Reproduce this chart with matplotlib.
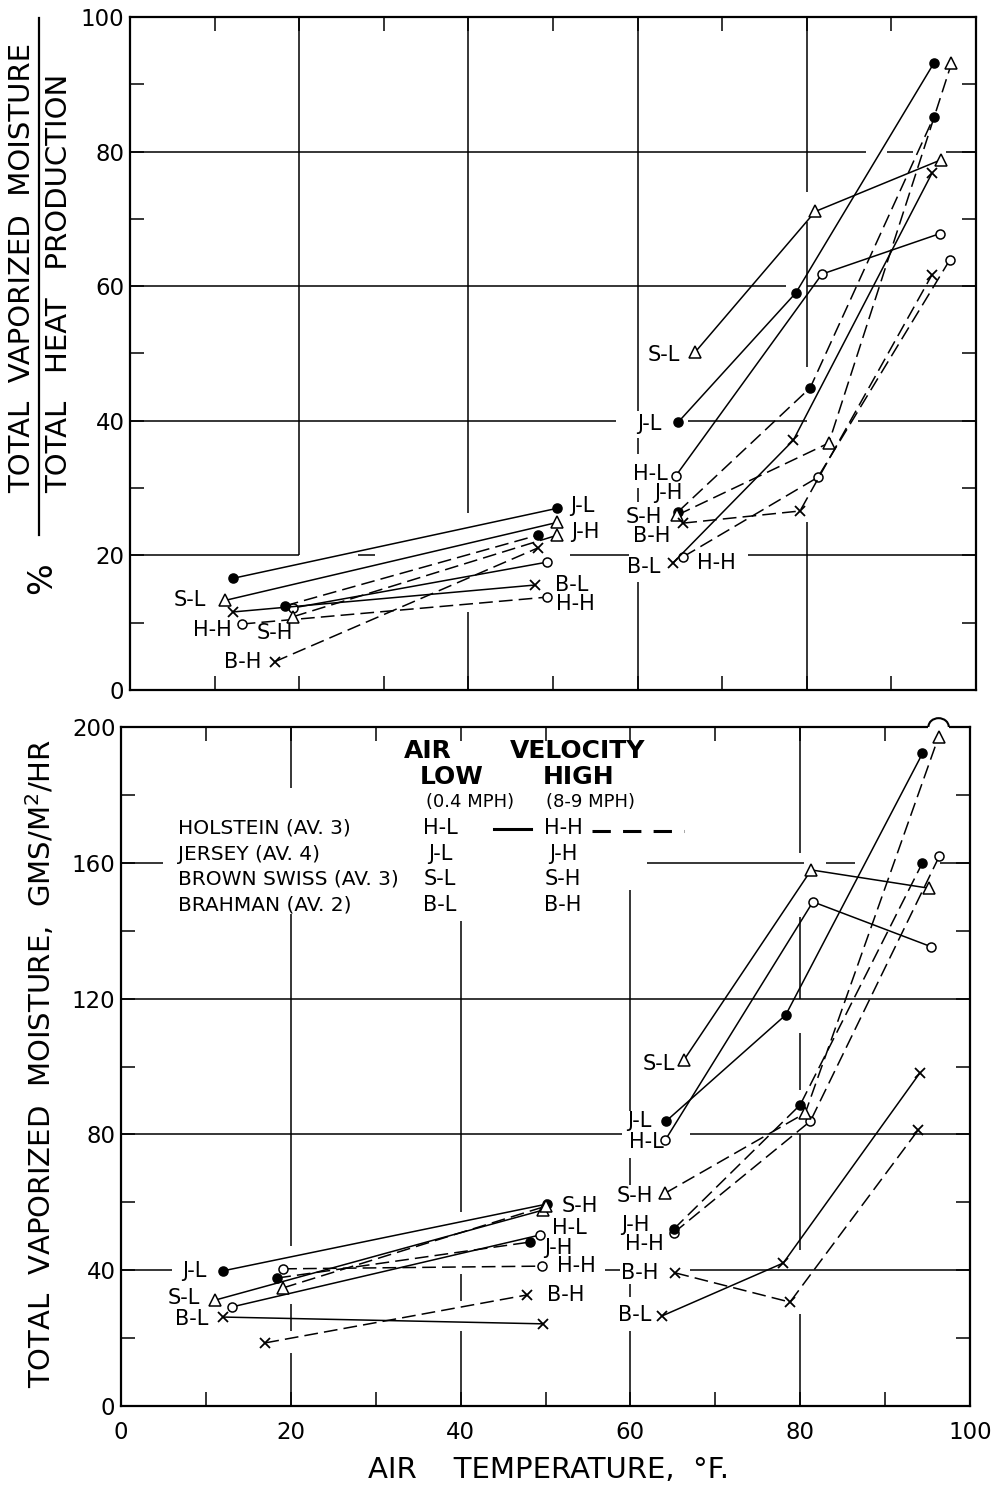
import matplotlib
matplotlib.use("Agg")
import matplotlib.pyplot as plt
from matplotlib.lines import Line2D
from matplotlib.patches import Arc
from matplotlib.ticker import MultipleLocator

plt.rcParams['font.family'] = ['DejaVu Sans']

W, H = 993, 1491

# ---------------------------------------------------------------------------
# Upper panel: % total vaporized moisture / total heat production
# Each series: two cool-room runs followed by three warm-room runs.
# ---------------------------------------------------------------------------
PCT_TEMP_HL = [19.3, 49.3, 64.5, 81.8, 95.7]
PCT_VAL_HL = [12.2, 19.0, 31.8, 61.8, 67.8]
PCT_TEMP_HH = [13.2, 49.3, 65.4, 81.3, 96.9]
PCT_VAL_HH = [9.8, 13.8, 19.8, 31.6, 63.9]
PCT_TEMP_JL = [12.2, 50.5, 64.8, 78.7, 95.0]
PCT_VAL_JL = [16.6, 27.0, 39.8, 59.0, 93.1]
PCT_TEMP_JH = [18.3, 48.2, 64.8, 80.4, 95.0]
PCT_VAL_JH = [12.5, 23.0, 26.5, 44.9, 85.1]
PCT_TEMP_SL = [11.2, 50.5, 66.8, 81.0, 95.9]
PCT_VAL_SL = [13.3, 24.9, 50.2, 71.1, 78.8]
PCT_TEMP_SH = [19.3, 50.5, 64.7, 82.6, 97.1]
PCT_VAL_SH = [10.9, 23.0, 26.0, 36.7, 93.1]
PCT_TEMP_BL = [12.2, 47.9, 64.2, 78.4, 94.8]
PCT_VAL_BL = [11.6, 15.6, 18.9, 37.1, 76.8]
PCT_TEMP_BH = [17.1, 48.2, 65.4, 79.2, 94.8]
PCT_VAL_BH = [4.2, 21.1, 24.8, 26.6, 61.7]

# ---------------------------------------------------------------------------
# Lower panel: total vaporized moisture, gms / m^2 / hr
# ---------------------------------------------------------------------------
GMS_TEMP_HL = [13.1, 49.4, 64.1, 81.5, 95.4]
GMS_VAL_HL = [29.2, 50.4, 78.3, 148.5, 135.3]
GMS_TEMP_HH = [19.1, 49.6, 65.1, 81.2, 96.4]
GMS_VAL_HH = [40.4, 41.2, 51.0, 83.9, 162.0]
GMS_TEMP_JL = [12.0, 50.2, 64.2, 78.3, 94.4]
GMS_VAL_JL = [39.8, 59.5, 83.9, 115.2, 192.2]
GMS_TEMP_JH = [18.4, 48.2, 65.1, 80.0, 94.4]
GMS_VAL_JH = [37.7, 48.3, 52.1, 88.7, 160.0]
GMS_TEMP_SL = [11.1, 49.7, 66.3, 81.3, 95.2]
GMS_VAL_SL = [31.2, 57.7, 101.9, 157.9, 152.5]
GMS_TEMP_SH = [19.1, 50.1, 64.1, 80.6, 96.3]
GMS_VAL_SH = [34.8, 58.9, 62.7, 86.3, 197.1]
GMS_TEMP_BL = [12.0, 49.7, 63.7, 78.0, 94.1]
GMS_VAL_BL = [26.2, 24.2, 26.5, 42.1, 98.1]
GMS_TEMP_BH = [17.0, 47.8, 65.3, 78.8, 93.9]
GMS_VAL_BH = [18.6, 32.7, 39.2, 30.6, 81.3]

SERIES = ['HL', 'HH', 'JL', 'JH', 'SL', 'SH', 'BL', 'BH']
PCT = {
    'HL': (PCT_TEMP_HL, PCT_VAL_HL), 'HH': (PCT_TEMP_HH, PCT_VAL_HH),
    'JL': (PCT_TEMP_JL, PCT_VAL_JL), 'JH': (PCT_TEMP_JH, PCT_VAL_JH),
    'SL': (PCT_TEMP_SL, PCT_VAL_SL), 'SH': (PCT_TEMP_SH, PCT_VAL_SH),
    'BL': (PCT_TEMP_BL, PCT_VAL_BL), 'BH': (PCT_TEMP_BH, PCT_VAL_BH),
}
GMS = {
    'HL': (GMS_TEMP_HL, GMS_VAL_HL), 'HH': (GMS_TEMP_HH, GMS_VAL_HH),
    'JL': (GMS_TEMP_JL, GMS_VAL_JL), 'JH': (GMS_TEMP_JH, GMS_VAL_JH),
    'SL': (GMS_TEMP_SL, GMS_VAL_SL), 'SH': (GMS_TEMP_SH, GMS_VAL_SH),
    'BL': (GMS_TEMP_BL, GMS_VAL_BL), 'BH': (GMS_TEMP_BH, GMS_VAL_BH),
}

# breed -> marker, velocity -> line style
MARKERS = {
    'H': dict(marker='o', ms=6.5, mfc='white', mec='black', mew=1.1),
    'J': dict(marker='o', ms=6.5, mfc='black', mec='black', mew=1.1),
    'S': dict(marker='^', ms=8.5, mfc='white', mec='black', mew=1.1),
    'B': dict(marker='x', ms=7.5, mec='black', mew=1.3),
}
DASH = (0, (9, 4))
LINESTYLE = {'L': '-', 'H': DASH}

INK = 'black'
LW = 1.1


def px_x(px):
    return px / W


def px_y(py):
    return 1 - py / H


fig = plt.figure(figsize=(W / 100, H / 100), dpi=100)
fig.patch.set_facecolor('white')

ax_top = fig.add_axes([px_x(130), px_y(690), 846 / W, 673 / H])
ax_bot = fig.add_axes([px_x(121), px_y(1406), 849 / W, 679 / H])


def style_axes(ax, ymax, ymajor, yminor):
    ax.set_xlim(0, 100)
    ax.set_ylim(0, ymax)
    ax.xaxis.set_major_locator(MultipleLocator(20))
    ax.xaxis.set_minor_locator(MultipleLocator(10))
    ax.yaxis.set_major_locator(MultipleLocator(ymajor))
    ax.yaxis.set_minor_locator(MultipleLocator(yminor))
    ax.tick_params(which='both', direction='in', length=10, width=1.1,
                   top=True, right=True, colors=INK)
    ax.tick_params(axis='y', which='major', labelsize=16.5, pad=4)
    ax.tick_params(axis='x', which='major', labelsize=16.5, pad=11)
    for sp in ax.spines.values():
        sp.set_linewidth(1.6)
        sp.set_color(INK)


def hgrid(ax, y, spans):
    for a, b in spans:
        ax.plot([a, b], [y, y], color=INK, lw=LW, zorder=1,
                solid_capstyle='butt')


def vgrid(ax, x, spans):
    for a, b in spans:
        ax.plot([x, x], [a, b], color=INK, lw=LW, zorder=1,
                solid_capstyle='butt')


def draw_series(ax, table):
    for key in SERIES:
        temps, vals = table[key]
        breed, vel = key[0], key[1]
        for lo, hi in ((0, 2), (2, 5)):
            ax.plot(temps[lo:hi], vals[lo:hi], color=INK, lw=LW,
                    linestyle=LINESTYLE[vel], zorder=3, **MARKERS[breed])


def draw_labels(ax, table, labels):
    for text, key, idx, dx, dy in labels:
        temps, vals = table[key]
        ax.annotate(text, xy=(temps[idx], vals[idx]), xytext=(dx, -dy),
                    textcoords='offset pixels', ha='center', va='center',
                    fontsize=15, color=INK, zorder=2,
                    bbox=dict(fc='white', ec='none', pad=0.5))


# ---------------------------- upper panel ---------------------------------
style_axes(ax_top, 100, 20, 10)
ax_top.tick_params(axis='x', which='both', labelbottom=False)

hgrid(ax_top, 80, [(0, 87), (89.5, 92.5), (96.5, 100)])
hgrid(ax_top, 60, [(0, 77.5), (80, 100)])
hgrid(ax_top, 40, [(0, 57.5), (66, 80), (86, 100)])
hgrid(ax_top, 20, [(0, 20), (27, 29), (52, 59), (73, 100)])
vgrid(ax_top, 20, [(20, 100)])
vgrid(ax_top, 40, [(0, 11.6), (26.3, 100)])
vgrid(ax_top, 60, [(0, 16), (28, 30), (35, 37.5), (41.5, 100)])
vgrid(ax_top, 80, [(0, 25), (48, 69.5), (74, 100)])

draw_series(ax_top, PCT)
draw_labels(ax_top, PCT, [
    ('S-L', 'SL', 0, -35, 0), ('H-H', 'HH', 0, -29, 6),
    ('S-H', 'SH', 0, -18, 16), ('B-H', 'BH', 0, -32, 0),
    ('J-L', 'JL', 1, 25, -2), ('J-H', 'JH', 1, 48, -3),
    ('B-L', 'BL', 1, 36, 0), ('H-H', 'HH', 1, 28, 7),
    ('S-L', 'SL', 2, -31, 3), ('J-L', 'JL', 2, -29, 2),
    ('H-L', 'HL', 2, -25, -2), ('J-H', 'JH', 2, -10, -19),
    ('S-H', 'SH', 2, -34, 2), ('B-H', 'BH', 2, -32, 13),
    ('B-L', 'BL', 2, -29, 4), ('H-H', 'HH', 2, 33, 6),
])

# ---------------------------- lower panel ---------------------------------
style_axes(ax_bot, 200, 40, 20)

hgrid(ax_bot, 160, [(0, 5), (62, 80.5), (83, 86.5), (96.5, 100)])
hgrid(ax_bot, 120, [(0, 100)])
hgrid(ax_bot, 80, [(0, 59), (67, 100)])
hgrid(ax_bot, 40, [(0, 6), (57, 60), (67, 100)])
vgrid(ax_bot, 20, [(0, 15.5), (22, 30), (47, 145), (182, 200)])
vgrid(ax_bot, 40, [(0, 22), (31, 39), (57, 143)])
vgrid(ax_bot, 60, [(0, 22), (32, 36), (65, 73), (85, 152)])
vgrid(ax_bot, 80, [(0, 27), (46, 80), (93, 110), (120, 144), (163, 200)])

draw_series(ax_bot, GMS)
draw_labels(ax_bot, GMS, [
    ('J-L', 'JL', 0, -29, 0), ('S-L', 'SL', 0, -31, -2),
    ('B-L', 'BL', 0, -31, 2), ('S-H', 'SH', 1, 33, 0),
    ('H-L', 'HL', 1, 29, -7), ('J-H', 'JH', 1, 28, 6),
    ('H-H', 'HH', 1, 34, 0), ('B-H', 'BH', 1, 39, 0),
    ('S-L', 'SL', 2, -25, 4), ('J-L', 'JL', 2, -27, 0),
    ('H-L', 'HL', 2, -19, 2), ('S-H', 'SH', 2, -30, 3),
    ('J-H', 'JH', 2, -38, -4), ('H-H', 'HH', 2, -29, 11),
    ('B-H', 'BH', 2, -36, 0), ('B-L', 'BL', 2, -27, -1),
])

# the highest point sits in a small bulge of the frame
peak_t = GMS_TEMP_SH[4]
ax_bot.plot([peak_t - 1.2, peak_t + 1.2], [200, 200], color='white', lw=3,
            zorder=4, clip_on=False, solid_capstyle='butt')
ax_bot.add_patch(Arc((peak_t, 200), 2.4, 5.2, theta1=0, theta2=180,
                     color=INK, lw=1.5, zorder=5, clip_on=False))

# ------------------------------- legend -----------------------------------
def ftext(px, py, s, **kw):
    kw.setdefault('color', INK)
    return fig.text(px_x(px), px_y(py), s, **kw)


ftext(428, 751, 'AIR', fontsize=18, fontweight='bold', ha='center', va='center')
ftext(578, 751, 'VELOCITY', fontsize=18, fontweight='bold', ha='center', va='center')
ftext(452, 777, 'LOW', fontsize=18, fontweight='bold', ha='center', va='center')
ftext(579, 777, 'HIGH', fontsize=18, fontweight='bold', ha='center', va='center')
ftext(470, 802, '(0.4 MPH)', fontsize=13, ha='center', va='center')
ftext(590, 802, '(8-9 MPH)', fontsize=13, ha='center', va='center')

legend_rows = [
    ('HOLSTEIN (AV. 3)', 'H-L', 'H-H', 828),
    ('JERSEY (AV. 4)', 'J-L', 'J-H', 854),
    ('BROWN SWISS (AV. 3)', 'S-L', 'S-H', 879),
    ('BRAHMAN (AV. 2)', 'B-L', 'B-H', 905),
]
for name, low, high, py in legend_rows:
    ftext(178, py, name, fontsize=14.5, ha='left', va='center')
    ftext(440, py, low, fontsize=15, ha='center', va='center')
    ftext(563, py, high, fontsize=15, ha='center', va='center')

fig.add_artist(Line2D([px_x(494), px_x(531)], [px_y(829), px_y(829)],
                      color=INK, lw=2.2))
fig.add_artist(Line2D([px_x(592), px_x(684)], [px_y(831), px_y(831)],
                      color=INK, lw=2.2, linestyle=(0, (6, 4))))

# ----------------------------- axis titles --------------------------------
ftext(22, 268, 'TOTAL  VAPORIZED  MOISTURE', fontsize=21, rotation=90,
      ha='center', va='center')
ftext(59, 283, 'TOTAL   HEAT   PRODUCTION', fontsize=21, rotation=90,
      ha='center', va='center')
fig.add_artist(Line2D([px_x(39), px_x(39)], [px_y(18), px_y(535)],
                      color=INK, lw=1.6))
ftext(42, 578, '%', fontsize=24, rotation=90, ha='center', va='center')

ftext(41, 1063, 'TOTAL  VAPORIZED  MOISTURE,  GMS/M$^{2}$/HR', fontsize=21,
      rotation=90, ha='center', va='center')
ftext(549, 1470, 'AIR    TEMPERATURE,  °F.', fontsize=21, ha='center',
      va='center')

fig.savefig('out.png', dpi=100, facecolor='white')
